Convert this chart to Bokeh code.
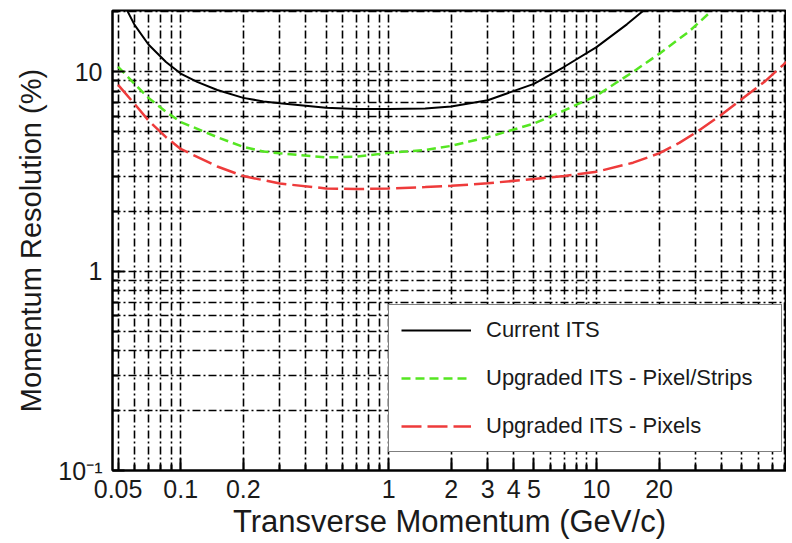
from bokeh.plotting import figure
from bokeh.models import FixedTicker, Legend, LegendItem, Range1d
from bokeh.embed import file_html
from bokeh.resources import INLINE

# ---- data ----
pt_current = [0.055, 0.06, 0.07, 0.085, 0.1, 0.12, 0.15, 0.2, 0.25, 0.3, 0.5, 0.7, 1, 1.5, 2, 3, 5, 7, 10, 14, 18]
res_current = [20.5, 17.2, 13.7, 11.2, 9.8, 8.9, 8.1, 7.4, 7.1, 6.95, 6.6, 6.5, 6.5, 6.55, 6.7, 7.2, 8.7, 10.6, 13.3, 17.3, 21.5]

pt_strips = [0.05, 0.06, 0.07, 0.085, 0.1, 0.15, 0.2, 0.25, 0.3, 0.5, 0.7, 1, 1.5, 2, 3, 5, 7, 10, 15, 20, 28, 35]
res_strips = [10.6, 8.7, 7.4, 6.3, 5.6, 4.7, 4.2, 3.98, 3.9, 3.72, 3.75, 3.92, 4.05, 4.25, 4.7, 5.5, 6.4, 7.6, 10.0, 12.3, 16.0, 19.8]

pt_pixels = [0.05, 0.06, 0.07, 0.085, 0.1, 0.15, 0.2, 0.3, 0.5, 0.7, 1, 1.5, 2, 3, 5, 7, 10, 15, 20, 25, 30, 40, 50, 65, 85]
res_pixels = [8.6, 6.9, 5.7, 4.7, 4.1, 3.35, 3.0, 2.75, 2.6, 2.58, 2.6, 2.64, 2.68, 2.76, 2.9, 3.0, 3.15, 3.5, 3.9, 4.4, 4.95, 6.1, 7.3, 9.0, 11.6]

x_major = [0.05, 0.1, 0.2, 1, 2, 3, 4, 5, 10, 20]
x_major_labels = ["0.05", "0.1", "0.2", "1", "2", "3", "4", "5", "10", "20"]
x_minor = [0.06, 0.07, 0.08, 0.09, 0.3, 0.4, 0.5, 0.6, 0.7, 0.8, 0.9,
           6, 7, 8, 9, 30, 40, 50, 60, 70, 80]
y_major = [0.1, 1, 10]
y_major_labels = ["10\u207b\u00b9", "1", "10"]
y_minor = [0.2, 0.3, 0.4, 0.5, 0.6, 0.7, 0.8, 0.9, 2, 3, 4, 5, 6, 7, 8, 9, 20]

series_labels = ["Current ITS", "Upgraded ITS - Pixel/Strips", "Upgraded ITS - Pixels"]

FONT = "Liberation Sans"

p = figure(width=786, height=541, x_axis_type="log", y_axis_type="log",
           x_range=Range1d(0.047, 82), y_range=Range1d(0.1, 20.3),
           output_backend="svg", toolbar_location=None,
           min_border_left=112, min_border_right=0, min_border_top=10, min_border_bottom=67)

p.outline_line_color = "black"
p.outline_line_width = 2
p.background_fill_color = "white"

xt = FixedTicker(ticks=x_major, minor_ticks=x_minor)
yt = FixedTicker(ticks=y_major, minor_ticks=y_minor)

for g, t in ((p.xgrid, xt), (p.ygrid, yt)):
    g.ticker = t
    g.grid_line_color = "black"
    g.grid_line_width = 1.6
    g.grid_line_dash = "8 3 2 3"
    g.minor_grid_line_color = "black"
    g.minor_grid_line_width = 1.6
    g.minor_grid_line_dash = "8 3 2 3"


def style_axis(ax, ticker):
    ax.ticker = ticker
    ax.major_tick_in = 12
    ax.major_tick_out = 0
    ax.minor_tick_in = 6
    ax.minor_tick_out = 0
    ax.major_tick_line_width = 2
    ax.minor_tick_line_width = 2
    ax.major_tick_line_color = "black"
    ax.minor_tick_line_color = "black"
    ax.axis_line_width = 2
    ax.axis_line_color = "black"
    ax.major_label_text_font = FONT
    ax.major_label_text_font_size = "25px"
    ax.major_label_text_color = "#1a1a1a"
    ax.axis_label_text_font = FONT
    ax.axis_label_text_font_style = "normal"
    ax.axis_label_text_color = "#1a1a1a"


style_axis(p.xaxis[0], xt)
style_axis(p.yaxis[0], yt)
p.xaxis[0].major_label_overrides = {v: s for v, s in zip(x_major, x_major_labels)}
p.yaxis[0].major_label_overrides = {v: s for v, s in zip(y_major, y_major_labels)}
p.xaxis[0].axis_label = "Transverse Momentum (GeV/c)"
p.yaxis[0].axis_label = "Momentum Resolution (%)"
p.xaxis[0].axis_label_text_font_size = "31px"
p.yaxis[0].axis_label_text_font_size = "29px"
p.xaxis[0].major_label_standoff = 9
p.xaxis[0].axis_label_standoff = 3
p.yaxis[0].major_label_standoff = 10
p.yaxis[0].axis_label_standoff = 8

r1 = p.line(pt_current, res_current, line_color="black", line_width=2)
r2 = p.line(pt_strips, res_strips, line_color="#55e622", line_width=2.5, line_dash="9 5")
r3 = p.line(pt_pixels, res_pixels, line_color="#ee3b3b", line_width=2.5, line_dash="20 6")

legend = Legend(items=[LegendItem(label=series_labels[0], renderers=[r1]),
                       LegendItem(label=series_labels[1], renderers=[r2]),
                       LegendItem(label=series_labels[2], renderers=[r3])],
                location=(276, 18))
legend.label_text_font = FONT
legend.label_text_font_size = "22px"
legend.label_text_color = "#1a1a1a"
legend.glyph_width = 70
legend.glyph_height = 20
legend.label_height = 20
legend.label_width = 283
legend.label_standoff = 15
legend.padding = 12
legend.spacing = 22
legend.margin = 0
legend.border_line_color = "black"
legend.border_line_width = 1.5
legend.background_fill_color = "white"
legend.background_fill_alpha = 1.0
p.add_layout(legend)

open("out.html", "w").write(file_html(p, INLINE))
